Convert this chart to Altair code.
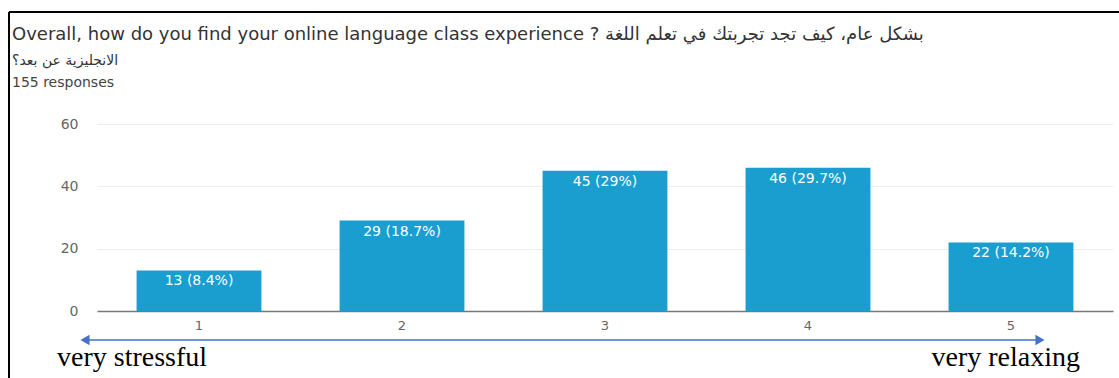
import altair as alt
import pandas as pd

# ---- data ----
categories = ["1", "2", "3", "4", "5"]
counts = [13, 29, 45, 46, 22]
labels = ["13 (8.4%)", "29 (18.7%)", "45 (29%)", "46 (29.7%)", "22 (14.2%)"]
y_ticks = [0, 20, 40, 60]

title_line1 = "Overall, how do you find your online language class experience ? بشكل عام، كيف تجد تجربتك في تعلم اللغة"
title_line2 = "الانجليزية عن بعد؟"
subtitle = "155 responses"
left_note = "very stressful"
right_note = "very relaxing"

df = pd.DataFrame({"cat": categories, "count": counts, "label": labels})

W, H = 1016, 187
BAR = "#1a9ecf"
ARROW = "#4472C4"
SANS = "DejaVu Sans"

x_enc = alt.X("cat:N", sort=categories,
              scale=alt.Scale(paddingInner=0.385, paddingOuter=0.195),
              axis=alt.Axis(title=None, labelAngle=0, ticks=False, domain=True,
                            domainColor="#777", domainWidth=1.5,
                            labelColor="#666", labelFont=SANS, labelFontSize=13,
                            labelPadding=8, grid=False))
y_enc = alt.Y("count:Q", scale=alt.Scale(domain=[0, 60], nice=False),
              axis=alt.Axis(title=None, values=y_ticks, ticks=False, domain=False,
                            labelColor="#666", labelFont=SANS, labelFontSize=14,
                            labelPadding=19, gridColor="#eeeeee", gridWidth=1))

bars = alt.Chart(df).mark_bar(color=BAR).encode(x=x_enc, y=y_enc)
bar_text = alt.Chart(df).mark_text(color="white", font=SANS, fontSize=14,
                                   baseline="top", dy=4).encode(
    x=alt.X("cat:N", sort=categories), y="count:Q", text="label:N")

one = pd.DataFrame({"k": [0]})

def txt(text, x, y, size, color="#333", font=SANS, align="left"):
    return alt.Chart(one).mark_text(text=text, font=font, fontSize=size, color=color,
                                    align=align, baseline="alphabetic").encode(
        x=alt.value(x), y=alt.value(y))

t1 = txt(title_line1, -85, -84, 18, "#333")
t2 = txt(title_line2, -85, -59, 14, "#333")
t3 = txt(subtitle, -85, -37, 14, "#444")

# frame lines (top and left)
frame_top = alt.Chart(one).mark_rule(color="black", strokeWidth=2).encode(
    x=alt.value(-88), x2=alt.value(1030), y=alt.value(-112))
frame_left = alt.Chart(one).mark_rule(color="black", strokeWidth=2).encode(
    x=alt.value(-88), y=alt.value(-112), y2=alt.value(260))

# double-headed arrow
arrow_line = alt.Chart(one).mark_rule(color=ARROW, strokeWidth=1.5).encode(
    x=alt.value(-8), x2=alt.value(940), y=alt.value(216))
head_l = alt.Chart(one).mark_point(shape="triangle-left", filled=True, color=ARROW,
                                   size=110, opacity=1).encode(
    x=alt.value(-12), y=alt.value(216))
head_r = alt.Chart(one).mark_point(shape="triangle-right", filled=True, color=ARROW,
                                   size=110, opacity=1).encode(
    x=alt.value(943), y=alt.value(216))

n1 = txt(left_note, -40, 242, 28, "black", "Liberation Serif")
n2 = txt(right_note, 983, 242, 28, "black", "Liberation Serif", "right")

chart = alt.layer(bars, bar_text, t1, t2, t3, frame_top, frame_left,
                  arrow_line, head_l, head_r, n1, n2).properties(
    width=W, height=H,
    autosize=alt.AutoSizeParams(type="none"),
    padding={"left": 97, "top": 124, "right": 6, "bottom": 67},
    background="white",
).configure_view(stroke=None)

chart.save("out.html", embed_options={"renderer": "svg", "actions": False})
